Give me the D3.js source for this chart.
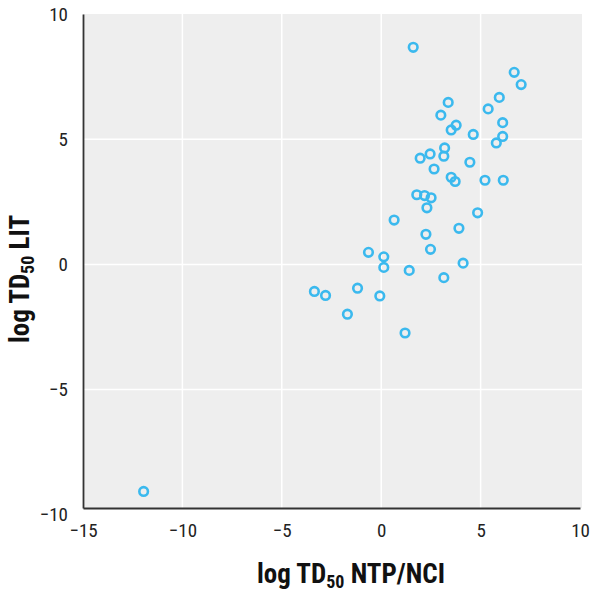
<!DOCTYPE html>
<html>
<head>
<meta charset="utf-8">
<script src="https://cdn.jsdelivr.net/npm/d3@7"></script>
<style>
  body { margin: 0; background: #fff; }
  text { font-family: "Liberation Sans Narrow", "Roboto Condensed", "Arial Narrow", "Liberation Sans", sans-serif; }
</style>
</head>
<body>
<div id="chart"></div>
<script>
// log TD50 values, NTP/NCI (x) vs literature (y)
var ntpValues = [1.61, 6.69, 7.04, 5.94, 3.37, 5.38, 3.0, 6.11, 3.77, 3.52,
                 4.63, 6.11, 5.79, 3.19, 2.46, 3.15, 1.96, 4.46, 2.66, 3.52,
                 3.72, 5.22, 6.14, 1.79, 2.18, 2.51, 2.30, 4.85, 0.65, 3.91,
                 2.25, 2.48, -0.64, 0.13, 4.12, 0.13, 1.41, 3.15, -3.36, -2.80,
                 -1.19, -0.07, -1.70, 1.20, -11.95];
var litValues = [8.67, 7.67, 7.18, 6.67, 6.47, 6.21, 5.96, 5.66, 5.56, 5.37,
                 5.19, 5.11, 4.85, 4.65, 4.41, 4.32, 4.24, 4.08, 3.81, 3.48,
                 3.31, 3.36, 3.36, 2.78, 2.75, 2.66, 2.26, 2.06, 1.77, 1.44,
                 1.20, 0.60, 0.48, 0.30, 0.05, -0.12, -0.24, -0.53, -1.08, -1.24,
                 -0.95, -1.26, -1.99, -2.74, -9.07];
var xTicks = [-15, -10, -5, 0, 5, 10];
var yTicks = [-10, -5, 0, 5, 10];

var width = 591, height = 592;
var margin = {top: 14, right: 9, bottom: 84, left: 83};
var plotW = width - margin.left - margin.right;
var plotH = height - margin.top - margin.bottom;

var svg = d3.select("#chart").append("svg")
    .attr("width", width)
    .attr("height", height);

var g = svg.append("g")
    .attr("transform", "translate(" + margin.left + "," + margin.top + ")");

// scales
var x = d3.scaleLinear().domain([-15, 10]).range([0, plotW - 2]);
var y = d3.scaleLinear().domain([-9.73, 10]).range([plotH, 0]);

// panel background
g.append("rect")
    .attr("width", plotW)
    .attr("height", plotH)
    .attr("fill", "#eeeeee");

// grid lines
g.selectAll(".vgrid")
    .data(xTicks.filter(d => d > -15 && d < 10))
    .enter().append("line")
    .attr("class", "vgrid")
    .attr("x1", d => x(d)).attr("x2", d => x(d))
    .attr("y1", 0).attr("y2", plotH)
    .attr("stroke", "#fff").attr("stroke-width", 1.5);

g.selectAll(".hgrid")
    .data(yTicks.filter(d => d > -10 && d < 10))
    .enter().append("line")
    .attr("class", "hgrid")
    .attr("x1", 0).attr("x2", plotW)
    .attr("y1", d => y(d)).attr("y2", d => y(d))
    .attr("stroke", "#fff").attr("stroke-width", 1.5);

// axes
var xAxis = g.append("g")
    .attr("transform", "translate(0," + plotH + ")")
    .call(d3.axisBottom(x).tickValues(xTicks).tickSize(0).tickPadding(16)
        .tickFormat(d => d < 0 ? "\u2212" + Math.abs(d) : d));
var yAxis = g.append("g")
    .call(d3.axisLeft(y).tickValues(yTicks).tickSize(0).tickPadding(15)
        .tickFormat(d => d < 0 ? "\u2212" + Math.abs(d) : d));

[xAxis, yAxis].forEach(a => {
  a.select(".domain").attr("stroke", "#333").attr("stroke-width", 1.8);
  a.selectAll("text").attr("font-size", 19).attr("fill", "#222")
      .style("font-family", "'Liberation Sans Narrow', 'Roboto Condensed', 'Arial Narrow', sans-serif");
});

// points
g.selectAll(".pt")
    .data(ntpValues.map((d, i) => ({x: d, y: litValues[i]})))
    .enter().append("circle")
    .attr("class", "pt")
    .attr("cx", d => x(d.x))
    .attr("cy", d => y(d.y))
    .attr("r", 4.3)
    .attr("fill", "none")
    .attr("stroke", "#3bb9ee")
    .attr("stroke-width", 2.6);

// axis titles
var xTitle = svg.append("text")
    .attr("x", 351)
    .attr("y", 583)
    .attr("text-anchor", "middle")
    .attr("font-size", 27)
    .attr("font-weight", "bold")
    .attr("fill", "#111");
xTitle.append("tspan").text("log TD");
xTitle.append("tspan").attr("font-size", 18).attr("dy", 5).text("50");
xTitle.append("tspan").attr("dy", -5).text(" NTP/NCI");

var yTitle = svg.append("text")
    .attr("transform", "translate(29,279) rotate(-90)")
    .attr("text-anchor", "middle")
    .attr("font-size", 27)
    .attr("font-weight", "bold")
    .attr("fill", "#111");
yTitle.append("tspan").text("log TD");
yTitle.append("tspan").attr("font-size", 18).attr("dy", 5).text("50");
yTitle.append("tspan").attr("dy", -5).text(" LIT");
</script>
</body>
</html>
